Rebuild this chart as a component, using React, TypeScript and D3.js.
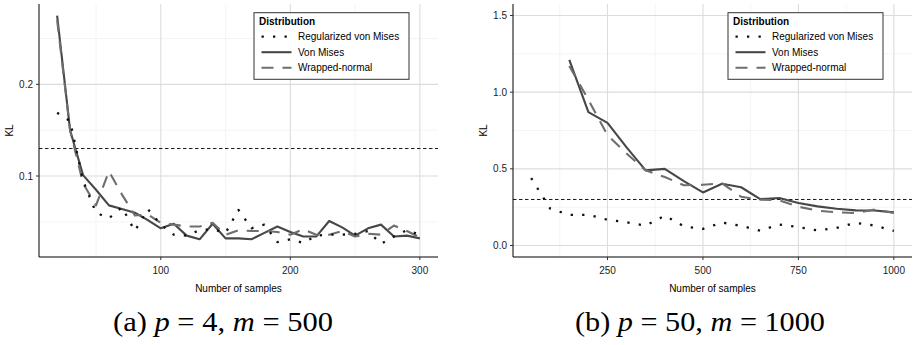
import React from 'react';
import * as d3 from 'd3';

// ---------- Data ----------
const samplesA = [20, 30, 40, 50, 60, 70, 80, 90, 100, 110, 120, 130, 140, 150, 160, 170, 180, 190, 200, 210, 220, 230, 240, 250, 260, 270, 280, 290, 300];
const regA = [0.169, 0.160, 0.095, 0.060, 0.054, 0.066, 0.040, 0.064, 0.047, 0.036, 0.035, 0.041, 0.042, 0.038, 0.063, 0.043, 0.047, 0.028, 0.031, 0.027, 0.035, 0.036, 0.036, 0.037, 0.040, 0.026, 0.034, 0.041, 0.036];
const vmA = [0.275, 0.150, 0.101, 0.085, 0.068, 0.064, 0.060, 0.052, 0.043, 0.048, 0.035, 0.031, 0.048, 0.032, 0.032, 0.031, 0.038, 0.045, 0.039, 0.034, 0.034, 0.051, 0.044, 0.035, 0.043, 0.047, 0.034, 0.035, 0.032];
const wnA = [0.270, 0.150, 0.092, 0.068, 0.105, 0.080, 0.057, 0.058, 0.049, 0.047, 0.045, 0.045, 0.049, 0.036, 0.041, 0.040, 0.040, 0.039, 0.036, 0.042, 0.036, 0.036, 0.040, 0.034, 0.037, 0.036, 0.046, 0.040, 0.033];

const samplesBReg = [50, 100, 150, 200, 250, 300, 350, 400, 450, 500, 550, 600, 650, 700, 750, 800, 850, 900, 950, 1000];
const regB = [0.44, 0.24, 0.20, 0.20, 0.168, 0.151, 0.13, 0.195, 0.125, 0.108, 0.15, 0.128, 0.097, 0.137, 0.12, 0.098, 0.115, 0.148, 0.13, 0.095];
const samplesB = [150, 200, 250, 300, 350, 400, 450, 500, 550, 600, 650, 700, 750, 800, 850, 900, 950, 1000];
const vmB = [1.21, 0.87, 0.80, 0.64, 0.49, 0.50, 0.42, 0.346, 0.403, 0.38, 0.303, 0.31, 0.277, 0.255, 0.24, 0.229, 0.228, 0.216];
const wnB = [1.17, 0.95, 0.72, 0.60, 0.49, 0.447, 0.393, 0.396, 0.405, 0.318, 0.299, 0.295, 0.253, 0.227, 0.217, 0.212, 0.235, 0.212];

const thresholdA = 0.13;
const thresholdB = 0.3;

const xTicksA = [100, 200, 300];
const xMinorA = [50, 150, 250];
const yTicksA = [0.1, 0.2];
const yMinorA = [0.05, 0.15, 0.25];
const xTicksB = [250, 500, 750, 1000];
const xMinorB = [125, 375, 625, 875];
const yTicksB = [0, 0.5, 1.0, 1.5];
const yMinorB = [0.25, 0.75, 1.25];

const legendLabels = ['Regularized von Mises', 'Von Mises', 'Wrapped-normal'];

// ---------- Styles ----------
const FONT = '"Liberation Sans", Arial, Helvetica, sans-serif';
const SERIF = '"Liberation Serif", "Times New Roman", serif';
const styles = {
  reg: { stroke: '#111111', width: 2.3, dash: '2.3 9.2' },
  vm: { stroke: '#474747', width: 2.1, dash: undefined as string | undefined },
  wn: { stroke: '#6e6e6e', width: 2.1, dash: '12 9' },
};

type Series = { xs: number[]; ys: number[]; style: { stroke: string; width: number; dash?: string } };

function Panel(props: {
  x0: number; x1: number; y0: number; y1: number;
  xDomain: [number, number]; yDomain: [number, number];
  xTicks: number[]; xMinor: number[]; yTicks: number[]; yMinor: number[];
  yFmt: (v: number) => string;
  hline: number; series: Series[]; ylabX: number;
  caption: { label: string; p: string; m: string }; captionX: number; captionW: number;
}) {
  const { x0, x1, y0, y1 } = props;
  const x = d3.scaleLinear().domain(props.xDomain).range([x0, x1]);
  const y = d3.scaleLinear().domain(props.yDomain).range([y1, y0]);
  const line = (s: Series) =>
    d3.line<number>().x((_, i) => x(s.xs[i])).y((d) => y(d))(s.ys) || '';
  const lx = x1 - 184;
  const ly = 12.7;
  const legendStyles = [styles.reg, styles.vm, styles.wn];
  return (
    <g>
      {props.xMinor.map((v) => (
        <line key={'xm' + v} x1={x(v)} x2={x(v)} y1={y0} y2={y1} stroke="#f1f1f1" strokeWidth={0.8} />
      ))}
      {props.yMinor.map((v) => (
        <line key={'ym' + v} x1={x0} x2={x1} y1={y(v)} y2={y(v)} stroke="#f1f1f1" strokeWidth={0.8} />
      ))}
      {props.xTicks.map((v) => (
        <line key={'xg' + v} x1={x(v)} x2={x(v)} y1={y0} y2={y1} stroke="#dcdcdc" strokeWidth={1.1} />
      ))}
      {props.yTicks.map((v) => (
        <line key={'yg' + v} x1={x0} x2={x1} y1={y(v)} y2={y(v)} stroke="#dcdcdc" strokeWidth={1.1} />
      ))}
      <line x1={x0} x2={x1} y1={y(props.hline)} y2={y(props.hline)} stroke="#000" strokeWidth={0.9} strokeDasharray="3.5 2.5" />
      {props.series.map((s, i) => (
        <path key={i} d={line(s)} fill="none" stroke={s.style.stroke} strokeWidth={s.style.width}
          strokeDasharray={s.style.dash} strokeLinejoin="round" />
      ))}
      <line x1={x0} x2={x0} y1={y0} y2={y1} stroke="#000" strokeWidth={1} />
      <line x1={x0} x2={x1} y1={y1} y2={y1} stroke="#000" strokeWidth={1} />
      {props.yTicks.map((v) => (
        <g key={'yt' + v}>
          <line x1={x0 - 3} x2={x0} y1={y(v)} y2={y(v)} stroke="#333" strokeWidth={1} />
          <text x={x0 - 6} y={y(v)} dy="0.35em" textAnchor="end" fontSize={10} fontFamily={FONT} fill="#222">
            {props.yFmt(v)}
          </text>
        </g>
      ))}
      {props.xTicks.map((v) => (
        <g key={'xt' + v}>
          <line x1={x(v)} x2={x(v)} y1={y1} y2={y1 + 3} stroke="#333" strokeWidth={1} />
          <text x={x(v)} y={y1 + 16.8} textAnchor="middle" fontSize={10} fontFamily={FONT} fill="#222">
            {v}
          </text>
        </g>
      ))}
      <text x={(x0 + x1) / 2} y={291.6} textAnchor="middle" fontSize={10} fontFamily={FONT} fill="#000">
        Number of samples
      </text>
      <text transform={`translate(${props.ylabX},${(y0 + y1) / 2}) rotate(-90)`} textAnchor="middle"
        fontSize={10} fontFamily={FONT} fill="#000">KL</text>
      <rect x={lx} y={ly} width={155} height={66.6} fill="#fff" stroke="#333" strokeWidth={1} />
      <text x={lx + 5} y={ly + 12.6} fontSize={10} fontWeight="bold" fontFamily={FONT} fill="#000">Distribution</text>
      {legendLabels.map((lab, i) => {
        const cy = ly + 24 + i * 15.5;
        const st = legendStyles[i];
        return (
          <g key={lab}>
            <line x1={lx + 7.5} x2={lx + 37.5} y1={cy} y2={cy} stroke={st.stroke} strokeWidth={st.width}
              strokeDasharray={st.dash} />
            <text x={lx + 44} y={cy} dy="0.35em" fontSize={10} fontFamily={FONT} fill="#000">{lab}</text>
          </g>
        );
      })}
      <text x={props.captionX - props.captionW / 2} y={331} fontSize={27} fontFamily={SERIF} fill="#000"
        textLength={props.captionW} lengthAdjust="spacingAndGlyphs">
        {props.caption.label + ' '}
        <tspan fontStyle="italic">p</tspan>
        {' = ' + props.caption.p + ', '}
        <tspan fontStyle="italic">m</tspan>
        {' = ' + props.caption.m}
      </text>
    </g>
  );
}

export default function App() {
  const fmt = d3.format('.1f');
  return (
    <svg width={916} height={345} style={{ position: 'absolute', left: 0, top: 0, background: '#fff' }}>
      <rect width={916} height={345} fill="#fff" />
      <Panel
        x0={39} x1={438} y0={4} y1={257}
        xDomain={[6, 314]} yDomain={[0.0117, 0.2876]}
        xTicks={xTicksA} xMinor={xMinorA} yTicks={yTicksA} yMinor={yMinorA}
        yFmt={fmt} hline={thresholdA} ylabX={12.6}
        series={[
          { xs: samplesA, ys: vmA, style: styles.vm },
          { xs: samplesA, ys: wnA, style: styles.wn },
          { xs: samplesA, ys: regA, style: styles.reg },
        ]}
        caption={{ label: '(a)', p: '4', m: '500' }} captionX={223} captionW={220}
      />
      <Panel
        x0={513} x1={912} y0={4} y1={257}
        xDomain={[2.5, 1047.5]} yDomain={[-0.075, 1.575]}
        xTicks={xTicksB} xMinor={xMinorB} yTicks={yTicksB} yMinor={yMinorB}
        yFmt={fmt} hline={thresholdB} ylabX={487}
        series={[
          { xs: samplesB, ys: vmB, style: styles.vm },
          { xs: samplesB, ys: wnB, style: styles.wn },
          { xs: samplesBReg, ys: regB, style: styles.reg },
        ]}
        caption={{ label: '(b)', p: '50', m: '1000' }} captionX={700} captionW={250}
      />
    </svg>
  );
}
